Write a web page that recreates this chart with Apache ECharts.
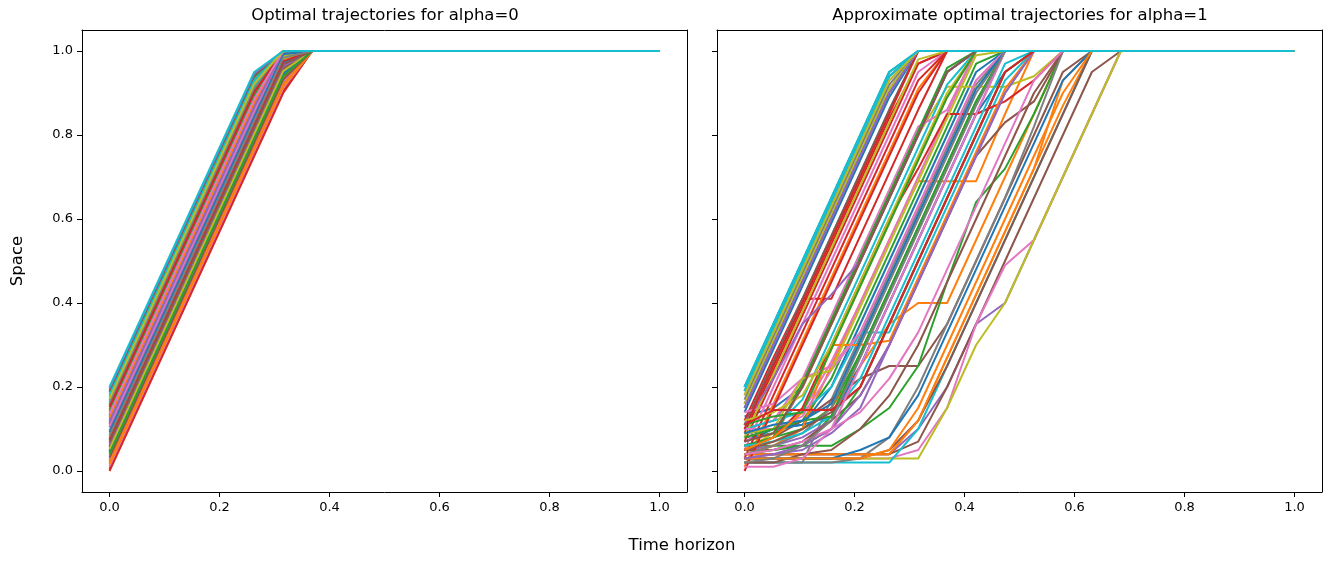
<!DOCTYPE html>
<html>
<head>
    <meta charset="UTF-8">
    <title>Optimal trajectories</title>
    <style>
        body {
            margin: 0;
            background-color: #ffffff;
        }
        #chart {
            width: 1332px;
            height: 565px;
        }
    </style>
</head>
<body>
    <div id="chart"></div>

    <script src="https://cdn.jsdelivr.net/npm/echarts@6.0.0/dist/echarts.min.js"></script>
    <script>
        // 时间网格 (20 个点, 步长 1/19)
        const timeSteps = [0, 0.0526, 0.1053, 0.1579, 0.2105, 0.2632, 0.3158, 0.3684, 0.4211, 0.4737,
            0.5263, 0.5789, 0.6316, 0.6842, 0.7368, 0.7895, 0.8421, 0.8947, 0.9474, 1];
        // 左图折点所在的时间 (k=0, 5, 6, 7)
        const leftTimes = [0, 0.2632, 0.3158, 0.3684];
        // 所有轨迹在终点处的值
        const horizonEnd = [1, 1];

        const xTicks = [0, 0.2, 0.4, 0.6, 0.8, 1.0];
        const yTicks = [0, 0.2, 0.4, 0.6, 0.8, 1.0];

        const titles = ['Optimal trajectories for alpha=0', 'Approximate optimal trajectories for alpha=1'];

        // alpha=0: 每条轨迹在 leftTimes 上的值
        const leftPaths = [
            [0.072, 0.822, 0.972, 1], [0.148, 0.898, 1, 1], [0.024, 0.774, 0.924, 1], [0.000, 0.750, 0.900, 1],
            [0.120, 0.870, 1, 1], [0.056, 0.806, 0.956, 1], [0.184, 0.934, 1, 1], [0.096, 0.846, 0.996, 1],
            [0.008, 0.758, 0.908, 1], [0.164, 0.914, 1, 1], [0.132, 0.882, 1, 1], [0.036, 0.786, 0.936, 1],
            [0.188, 0.938, 1, 1], [0.004, 0.754, 0.904, 1], [0.104, 0.854, 1, 1], [0.060, 0.810, 0.960, 1],
            [0.012, 0.762, 0.912, 1], [0.140, 0.890, 1, 1], [0.080, 0.830, 0.980, 1], [0.176, 0.926, 1, 1],
            [0.044, 0.794, 0.944, 1], [0.016, 0.766, 0.916, 1], [0.156, 0.906, 1, 1], [0.112, 0.862, 1, 1],
            [0.064, 0.814, 0.964, 1], [0.192, 0.942, 1, 1], [0.028, 0.778, 0.928, 1], [0.124, 0.874, 1, 1],
            [0.088, 0.838, 0.988, 1], [0.168, 0.918, 1, 1], [0.048, 0.798, 0.948, 1], [0.020, 0.770, 0.920, 1],
            [0.144, 0.894, 1, 1], [0.076, 0.826, 0.976, 1], [0.196, 0.946, 1, 1], [0.032, 0.782, 0.932, 1],
            [0.108, 0.858, 1, 1], [0.160, 0.910, 1, 1], [0.052, 0.802, 0.952, 1], [0.180, 0.930, 1, 1],
            [0.092, 0.842, 0.992, 1], [0.128, 0.878, 1, 1], [0.040, 0.790, 0.940, 1], [0.152, 0.902, 1, 1],
            [0.116, 0.866, 1, 1], [0.068, 0.818, 0.968, 1], [0.136, 0.886, 1, 1], [0.084, 0.834, 0.984, 1],
            [0.172, 0.922, 1, 1], [0.200, 0.950, 1, 1]
        ];

        // alpha=1: 每条轨迹在 timeSteps 上的值 (到达 1 为止)
        const rightPaths = [
            [0.13, 0.15, 0.20, 0.35, 0.50, 0.65, 0.80, 0.95, 1],
            [0.04, 0.04, 0.04, 0.04, 0.04, 0.04, 0.12, 0.27, 0.42, 0.57, 0.72, 0.87, 1],
            [0.06, 0.06, 0.06, 0.13, 0.28, 0.43, 0.58, 0.73, 0.88, 1],
            [0.12, 0.27, 0.41, 0.41, 0.56, 0.71, 0.86, 1],
            [0.04, 0.04, 0.04, 0.04, 0.04, 0.04, 0.10, 0.20, 0.35, 0.40, 0.55, 0.70, 0.85, 1],
            [0.04, 0.04, 0.04, 0.04, 0.04, 0.04, 0.07, 0.20, 0.35, 0.50, 0.65, 0.80, 0.95, 1],
            [0.03, 0.03, 0.03, 0.03, 0.03, 0.03, 0.05, 0.15, 0.35, 0.49, 0.55, 0.70, 0.85, 1],
            [0.02, 0.02, 0.02, 0.17, 0.32, 0.47, 0.62, 0.77, 0.92, 1],
            [0.03, 0.03, 0.03, 0.03, 0.03, 0.03, 0.03, 0.15, 0.30, 0.40, 0.55, 0.70, 0.85, 1],
            [0.02, 0.02, 0.02, 0.02, 0.02, 0.02, 0.10, 0.25, 0.40, 0.55, 0.70, 0.85, 1],
            [0.20, 0.35, 0.50, 0.65, 0.80, 0.95, 1],
            [0.05, 0.07, 0.10, 0.25, 0.40, 0.55, 0.69, 0.69, 0.69, 0.85, 1],
            [0.08, 0.09, 0.12, 0.22, 0.37, 0.52, 0.67, 0.82, 0.97, 1],
            [0.09, 0.24, 0.39, 0.54, 0.69, 0.84, 0.97, 1],
            [0.16, 0.31, 0.46, 0.61, 0.76, 0.91, 1],
            [0.06, 0.08, 0.12, 0.17, 0.22, 0.25, 0.25, 0.35, 0.50, 0.65, 0.80, 0.95, 1],
            [0.07, 0.09, 0.14, 0.26, 0.40, 0.55, 0.70, 0.85, 1],
            [0.10, 0.12, 0.20, 0.35, 0.50, 0.65, 0.80, 0.95, 1],
            [0.19, 0.34, 0.49, 0.64, 0.79, 0.94, 1],
            [0.11, 0.26, 0.41, 0.56, 0.71, 0.86, 1],
            [0.07, 0.10, 0.11, 0.20, 0.35, 0.50, 0.65, 0.80, 0.95, 1],
            [0.04, 0.06, 0.10, 0.15, 0.25, 0.35, 0.40, 0.40, 0.55, 0.70, 0.85, 1],
            [0.06, 0.08, 0.10, 0.15, 0.28, 0.43, 0.58, 0.73, 0.88, 1],
            [0.07, 0.22, 0.37, 0.52, 0.67, 0.82, 0.97, 1],
            [0.05, 0.08, 0.20, 0.35, 0.50, 0.65, 0.80, 0.95, 1],
            [0.03, 0.03, 0.03, 0.03, 0.03, 0.05, 0.12, 0.25, 0.40, 0.55, 0.70, 0.85, 1],
            [0.05, 0.20, 0.35, 0.50, 0.65, 0.80, 0.95, 1],
            [0.17, 0.32, 0.47, 0.62, 0.77, 0.92, 1],
            [0.05, 0.09, 0.20, 0.35, 0.50, 0.65, 0.80, 0.915, 0.915, 0.915, 0.94, 1],
            [0.09, 0.10, 0.17, 0.32, 0.47, 0.62, 0.77, 0.92, 1],
            [0.14, 0.29, 0.44, 0.59, 0.74, 0.89, 1],
            [0.01, 0.16, 0.31, 0.46, 0.61, 0.76, 0.91, 1],
            [0.05, 0.05, 0.06, 0.06, 0.10, 0.15, 0.25, 0.45, 0.64, 0.72, 0.85, 1],
            [0.03, 0.18, 0.33, 0.48, 0.63, 0.78, 0.93, 1],
            [0.05, 0.06, 0.08, 0.12, 0.25, 0.40, 0.55, 0.70, 0.85, 1],
            [0.05, 0.05, 0.07, 0.12, 0.18, 0.30, 0.45, 0.60, 0.75, 0.83, 0.88, 1],
            [0.10, 0.12, 0.22, 0.37, 0.52, 0.67, 0.82, 0.86, 1],
            [0.02, 0.02, 0.02, 0.02, 0.03, 0.08, 0.20, 0.35, 0.50, 0.65, 0.82, 1],
            [0.16, 0.31, 0.46, 0.61, 0.76, 0.91, 1],
            [0.10, 0.12, 0.14, 0.20, 0.33, 0.33, 0.48, 0.63, 0.78, 0.93, 1],
            [0.09, 0.10, 0.11, 0.13, 0.25, 0.40, 0.55, 0.70, 0.85, 0.95, 1],
            [0.04, 0.04, 0.04, 0.04, 0.04, 0.04, 0.12, 0.27, 0.42, 0.57, 0.72, 0.93, 1],
            [0.04, 0.05, 0.06, 0.10, 0.20, 0.35, 0.50, 0.65, 0.80, 0.95, 1],
            [0.05, 0.08, 0.15, 0.30, 0.45, 0.60, 0.72, 0.85, 0.85, 0.88, 0.93, 1],
            [0.03, 0.04, 0.06, 0.10, 0.18, 0.30, 0.45, 0.60, 0.75, 0.90, 1],
            [0.11, 0.26, 0.41, 0.56, 0.71, 0.86, 1],
            [0.14, 0.16, 0.22, 0.25, 0.33, 0.48, 0.63, 0.78, 0.93, 1],
            [0.19, 0.34, 0.49, 0.64, 0.79, 0.94, 1],
            [0.08, 0.23, 0.38, 0.53, 0.68, 0.83, 0.98, 1],
            [0.20, 0.35, 0.50, 0.65, 0.80, 0.95, 1],
            [0.15, 0.30, 0.45, 0.60, 0.75, 0.90, 1],
            [0.04, 0.06, 0.10, 0.30, 0.30, 0.31, 0.46, 0.61, 0.76, 0.91, 1],
            [0.06, 0.08, 0.21, 0.36, 0.51, 0.66, 0.81, 0.96, 1],
            [0.00, 0.15, 0.30, 0.45, 0.60, 0.75, 0.90, 1],
            [0.11, 0.22, 0.35, 0.42, 0.50, 0.65, 0.80, 0.95, 1],
            [0.02, 0.02, 0.04, 0.05, 0.10, 0.18, 0.30, 0.45, 0.60, 0.75, 0.90, 1],
            [0.10, 0.10, 0.13, 0.24, 0.33, 0.48, 0.63, 0.78, 0.93, 1],
            [0.04, 0.06, 0.09, 0.15, 0.30, 0.45, 0.60, 0.75, 0.90, 1],
            [0.09, 0.10, 0.22, 0.24, 0.39, 0.54, 0.69, 0.84, 0.99, 1],
            [0.06, 0.07, 0.09, 0.13, 0.22, 0.37, 0.52, 0.67, 0.82, 0.97, 1],
            [0.03, 0.03, 0.03, 0.03, 0.05, 0.08, 0.18, 0.33, 0.48, 0.63, 0.78, 0.93, 1],
            [0.03, 0.03, 0.03, 0.03, 0.03, 0.05, 0.15, 0.30, 0.45, 0.60, 0.75, 0.90, 1],
            [0.08, 0.10, 0.12, 0.13, 0.28, 0.43, 0.58, 0.73, 0.88, 1],
            [0.10, 0.25, 0.40, 0.55, 0.70, 0.85, 1],
            [0.03, 0.04, 0.05, 0.09, 0.15, 0.30, 0.45, 0.60, 0.75, 0.90, 1],
            [0.05, 0.07, 0.10, 0.14, 0.20, 0.35, 0.50, 0.65, 0.80, 0.95, 1],
            [0.04, 0.05, 0.07, 0.10, 0.14, 0.22, 0.33, 0.48, 0.63, 0.78, 0.93, 1],
            [0.18, 0.33, 0.48, 0.63, 0.78, 0.93, 1],
            [0.12, 0.14, 0.18, 0.30, 0.45, 0.60, 0.75, 0.90, 1],
            [0.19, 0.34, 0.49, 0.64, 0.79, 0.94, 1],
            [0.09, 0.11, 0.12, 0.16, 0.31, 0.46, 0.61, 0.76, 0.91, 1],
            [0.05, 0.08, 0.14, 0.29, 0.44, 0.59, 0.74, 0.89, 1],
            [0.11, 0.13, 0.14, 0.29, 0.44, 0.59, 0.74, 0.89, 1],
            [0.11, 0.145, 0.145, 0.145, 0.20, 0.35, 0.50, 0.65, 0.80, 0.95, 1],
            [0.15, 0.30, 0.45, 0.60, 0.75, 0.90, 1],
            [0.07, 0.09, 0.20, 0.35, 0.50, 0.65, 0.80, 0.95, 1],
            [0.01, 0.01, 0.03, 0.10, 0.25, 0.40, 0.55, 0.70, 0.85, 1],
            [0.02, 0.03, 0.06, 0.12, 0.27, 0.42, 0.57, 0.72, 0.87, 1],
            [0.18, 0.33, 0.48, 0.63, 0.78, 0.93, 1],
            [0.20, 0.35, 0.50, 0.65, 0.80, 0.95, 1]
        ];

        // matplotlib tab10
        const palette = ['#1f77b4', '#ff7f0e', '#2ca02c', '#d62728', '#9467bd',
            '#8c564b', '#e377c2', '#7f7f7f', '#bcbd22', '#17becf'];

        const font = 'DejaVu Sans';
        const frameLine = { show: true, onZero: false, lineStyle: { color: '#000', width: 1 } };

        function makeSeries(paths, times, axisIndex) {
            return paths.map((vals, i) => {
                const data = vals.map((v, k) => [times[k], v]);
                data.push(horizonEnd);
                return {
                    type: 'line',
                    xAxisIndex: axisIndex,
                    yAxisIndex: axisIndex,
                    data: data,
                    symbol: 'none',
                    silent: true,
                    z: 1,
                    lineStyle: { width: 2, color: palette[i % 10] },
                    itemStyle: { color: palette[i % 10] }
                };
            });
        }

        // 带刻度和标签的坐标轴
        function makeAxis(gridIndex, position, ticks, showLabels) {
            return {
                type: 'value',
                gridIndex: gridIndex,
                position: position,
                min: -0.05,
                max: 1.05,
                splitLine: { show: false },
                axisLine: frameLine,
                axisTick: { show: true, length: 5, customValues: ticks, lineStyle: { color: '#000' } },
                axisLabel: {
                    show: showLabels,
                    customValues: ticks,
                    margin: 9,
                    color: '#000',
                    fontSize: 13,
                    fontFamily: font,
                    formatter: v => v.toFixed(1)
                },
                z: 5
            };
        }

        // 只画边框的坐标轴 (上边和右边)
        function makeFrameAxis(gridIndex, position) {
            return {
                type: 'value',
                gridIndex: gridIndex,
                position: position,
                min: -0.05,
                max: 1.05,
                splitLine: { show: false },
                axisLine: frameLine,
                axisTick: { show: false },
                axisLabel: { show: false },
                z: 5
            };
        }

        const chart = echarts.init(document.getElementById('chart'), null, { renderer: 'canvas' });

        const option = {
            animation: false,
            backgroundColor: '#ffffff',
            textStyle: { fontFamily: font },
            title: [
                {
                    text: titles[0], left: 385, top: 7, textAlign: 'center', padding: 0,
                    textStyle: { fontSize: 16.5, fontWeight: 'normal', color: '#000', fontFamily: font }
                },
                {
                    text: titles[1], left: 1020, top: 7, textAlign: 'center', padding: 0,
                    textStyle: { fontSize: 16.5, fontWeight: 'normal', color: '#000', fontFamily: font }
                }
            ],
            grid: [
                { left: 82, top: 30, width: 605, height: 462 },
                { left: 717, top: 30, width: 605, height: 462 }
            ],
            // 0,1: 左图 下/上; 2,3: 右图 下/上
            xAxis: [
                makeAxis(0, 'bottom', xTicks, true), makeFrameAxis(0, 'top'),
                makeAxis(1, 'bottom', xTicks, true), makeFrameAxis(1, 'top')
            ],
            // 0,1: 左图 左/右; 2,3: 右图 左/右
            yAxis: [
                makeAxis(0, 'left', yTicks, true), makeFrameAxis(0, 'right'),
                makeAxis(1, 'left', yTicks, false), makeFrameAxis(1, 'right')
            ],
            graphic: [
                {
                    type: 'text',
                    x: 18, y: 261,
                    rotation: Math.PI / 2,
                    style: { text: 'Space', fontSize: 16.5, fontFamily: font, fill: '#000', textAlign: 'center', textVerticalAlign: 'middle' }
                },
                {
                    type: 'text',
                    x: 682, y: 546,
                    style: { text: 'Time horizon', fontSize: 16.5, fontFamily: font, fill: '#000', textAlign: 'center', textVerticalAlign: 'middle' }
                }
            ],
            series: makeSeries(leftPaths, leftTimes, 0).concat(makeSeries(rightPaths, timeSteps, 2))
        };

        chart.setOption(option);
    </script>
</body>
</html>
